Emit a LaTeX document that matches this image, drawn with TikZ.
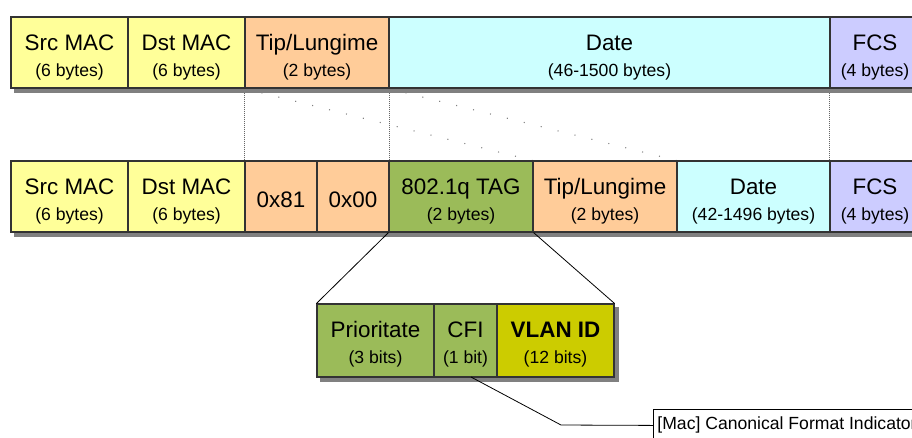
\documentclass[tikz,border=0pt]{standalone}
\usepackage{fontspec}
\setmainfont{Liberation Sans}
\usetikzlibrary{calc,fit,backgrounds}

\definecolor{macfill}{HTML}{FFFF99}
\definecolor{typefill}{HTML}{FFCC99}
\definecolor{datafill}{HTML}{CCFFFF}
\definecolor{fcsfill}{HTML}{CCCCFF}
\definecolor{tagfill}{HTML}{9BBB59}
\definecolor{vidfill}{HTML}{CCCC00}

\tikzset{
  cell/.style={draw=black!80, line width=0.8pt, inner sep=0pt},
  maintxt/.style={anchor=base, inner sep=0pt, font=\fontsize{16.8}{20}\selectfont},
  subtxt/.style={anchor=base, inner sep=0pt, font=\fontsize{13.2}{16}\selectfont},
  shadowfill/.style={fill=black!50},
  guide/.style={black!60, line width=0.75pt, dash pattern=on 0.75pt off 0.75pt},
  sparse/.style={black!50, line width=0.8pt, dash pattern=on 0.8pt off 12.27pt},
  link/.style={black, line width=0.6pt},
  notebox/.style={draw=black, line width=0.6pt, fill=white, anchor=north west,
    inner xsep=3pt, inner ysep=0pt, minimum height=24pt,
    font=\fontsize{13.2}{16}\selectfont},
}

% a field with a name and a size line: name, x1, x2, top, height, fill, title, size
\newcommand\twocell[8]{%
  \node[cell, fill=#6, fit={(#2,#4) (#3,{#4+#5})}] (#1) {};
  \node[maintxt] (#1-m) at ($(#1.north)+(0,34)$) {#7};
  \node[subtxt] (#1-s) at ($(#1.north)+(0,60)$) {#8};}
% a field with a single value: name, x1, x2, top, height, fill, value
\newcommand\onecell[7]{%
  \node[cell, fill=#6, fit={(#2,#4) (#3,{#4+#5})}] (#1) {};
  \node[maintxt] (#1-m) at ($(#1.north)+(0,47)$) {#7};}

\begin{document}
\begin{tikzpicture}[x=0.75pt, y=-0.75pt]
\useasboundingbox (0,0) rectangle (912,437);

% plain Ethernet frame
\twocell{src}{11}{128}{17}{71}{macfill}{Src MAC}{(6 bytes)}
\twocell{dst}{128}{245}{17}{71}{macfill}{Dst MAC}{(6 bytes)}
\twocell{tip}{245}{389}{17}{71}{typefill}{Tip/Lungime}{(2 bytes)}
\twocell{date}{389}{830}{17}{71}{datafill}{Date}{(46-1500 bytes)}
\twocell{fcs}{830}{920}{17}{71}{fcsfill}{FCS}{(4 bytes)}

% 802.1Q tagged frame
\twocell{srcq}{11}{128}{161}{71}{macfill}{Src MAC}{(6 bytes)}
\twocell{dstq}{128}{245}{161}{71}{macfill}{Dst MAC}{(6 bytes)}
\onecell{tpa}{245}{317}{161}{71}{typefill}{0x81}
\onecell{tpb}{317}{389}{161}{71}{typefill}{0x00}
\twocell{tag}{389}{533}{161}{71}{tagfill}{802.1q TAG}{(2 bytes)}
\twocell{tipq}{533}{677}{161}{71}{typefill}{Tip/Lungime}{(2 bytes)}
\twocell{dateq}{677}{830}{161}{71}{datafill}{Date}{(42-1496 bytes)}
\twocell{fcsq}{830}{920}{161}{71}{fcsfill}{FCS}{(4 bytes)}

% tag control information
\twocell{prio}{317}{434}{304}{73}{tagfill}{Prioritate}{(3 bits)}
\twocell{cfi}{434}{497}{304}{73}{tagfill}{CFI}{(1 bit)}
\twocell{vid}{497}{614}{304}{73}{vidfill}{\bfseries VLAN ID}{(12 bits)}

\begin{scope}[on background layer]
  % how the fields move between the two frames
  \draw[guide] (tip.south west) -- (tpa.north west);
  \draw[guide] (tip.south east) -- (tpb.north east);
  \draw[guide] (fcs.south west) -- (fcsq.north west);
  \draw[sparse] (tip.south west) -- (tipq.north west);
  \draw[sparse] (date.south west) -- (dateq.north west);
  % drop shadows
  \fill[shadowfill] ($(src.north west)+(4,4)$) rectangle ($(fcs.south east)+(4,4)$);
  \fill[shadowfill] ($(srcq.north west)+(4,4)$) rectangle ($(fcsq.south east)+(4,4)$);
  \fill[shadowfill] ($(prio.north west)+(4,4)$) rectangle ($(vid.south east)+(4,4)$);
\end{scope}

% expansion of the tag
\draw[link] (tag.south west) -- (prio.north west);
\draw[link] (tag.south east) -- (vid.north east);

% note on the CFI bit
\node[notebox] (note) at (653,409) {[Mac] Canonical Format Indicator};
\coordinate (cfiout) at (471,377);
\coordinate (bend) at (561,425);
\draw[link] (cfiout) -- (bend) -- (note.west);
\end{tikzpicture}
\end{document}
